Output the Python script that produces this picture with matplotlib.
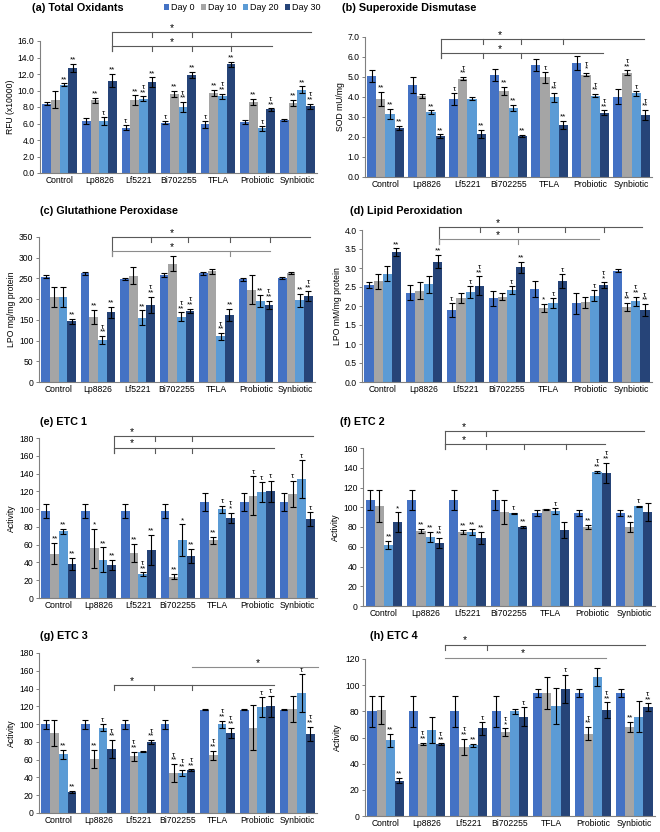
import matplotlib
matplotlib.use("Agg")
import matplotlib.pyplot as plt
from matplotlib.patches import Patch

plt.rcParams['font.family'] = ['Liberation Sans', 'DejaVu Sans']

W, H = 660, 832
groups = ["Control", "Lp8826", "Lf5221", "Bi702255", "TFLA", "Probiotic", "Synbiotic"]
days = ["Day 0", "Day 10", "Day 20", "Day 30"]
colors = ["#4472C4", "#A5A5A5", "#5B9BD5", "#264478"]

# ---- (a) Total Oxidants ----
a_mean = [[8.4, 8.9, 10.7, 12.7], [6.3, 8.8, 6.3, 11.2], [5.5, 8.8, 9.0, 11.0],
          [6.1, 9.6, 8.0, 11.9], [5.9, 9.7, 9.3, 13.2], [6.2, 8.6, 5.4, 7.7],
          [6.4, 8.5, 10.1, 8.1]]
a_err = [[0.2, 1.0, 0.15, 0.5], [0.4, 0.3, 0.5, 0.8], [0.3, 0.6, 0.3, 0.6],
         [0.2, 0.4, 0.6, 0.4], [0.4, 0.4, 0.3, 0.3], [0.2, 0.4, 0.3, 0.15],
         [0.1, 0.4, 0.4, 0.3]]
a_marks = [["", "", "**", "**"], ["", "**", "t", "**"], ["t", "**", "t**", "**"],
           ["t", "**", "t**", "**"], ["t", "**", "t**", "**"], ["", "**", "t", "t**"],
           ["", "**", "**", "t**"]]

# ---- (b) Superoxide Dismutase ----
b_mean = [[5.05, 3.9, 3.15, 2.45], [4.6, 4.05, 3.25, 2.05], [3.9, 4.92, 3.92, 2.15],
          [5.1, 4.3, 3.45, 2.05], [5.62, 4.98, 3.98, 2.6], [5.7, 5.12, 4.07, 3.22],
          [4.02, 5.22, 4.18, 3.1]]
b_err = [[0.3, 0.35, 0.25, 0.1], [0.4, 0.12, 0.08, 0.08], [0.28, 0.08, 0.06, 0.2],
         [0.3, 0.2, 0.15, 0.05], [0.3, 0.28, 0.22, 0.2], [0.35, 0.08, 0.08, 0.12],
         [0.38, 0.12, 0.12, 0.25]]
b_marks = [["", "**", "**", "**"], ["", "", "**", "**"], ["t", "t**", "", "**"],
           ["", "**", "**", "**"], ["", "t", "t**", "**"], ["", "t*", "t**", "t**"],
           ["", "t**", "t", "t**"]]

# ---- (c) Glutathione Peroxidase ----
c_mean = [[254, 205, 205, 147], [262, 157, 101, 168], [249, 257, 155, 186],
          [258, 286, 158, 172], [262, 267, 110, 162], [248, 223, 195, 186],
          [251, 263, 197, 207]]
c_err = [[4, 25, 25, 6], [4, 18, 10, 14], [3, 20, 18, 20], [4, 18, 10, 5],
         [3, 6, 8, 14], [3, 35, 15, 10], [2, 3, 16, 12]]
c_marks = [["", "", "", "**"], ["", "**", "t**", "**"], ["", "", "**", "t**"],
           ["", "", "t**", "t**"], ["", "", "t**", "**"], ["", "", "**", "t**"],
           ["", "", "**", "t**"]]

# ---- (d) Lipid Peroxidation ----
d_mean = [[2.55, 2.65, 2.85, 3.42], [2.35, 2.4, 2.57, 3.17], [1.9, 2.22, 2.37, 2.53],
          [2.2, 2.25, 2.42, 3.02], [2.45, 1.95, 2.08, 2.65], [2.07, 2.1, 2.27, 2.55],
          [2.93, 1.98, 2.12, 1.9]]
d_err = [[0.07, 0.2, 0.2, 0.1], [0.2, 0.22, 0.23, 0.18], [0.18, 0.13, 0.15, 0.25],
         [0.2, 0.08, 0.1, 0.15], [0.2, 0.1, 0.12, 0.18], [0.27, 0.15, 0.15, 0.07],
         [0.04, 0.1, 0.13, 0.15]]
d_marks = [["", "", "", "**"], ["", "", "", "**"], ["t", "", "t", "t**"],
           ["", "", "t", "**"], ["", "*", "t", "t"], ["", "", "t", "t*"],
           ["", "t**", "t**", "t**"]]

# ---- (e) ETC 1 ----
e_mean = [[98, 50, 75, 38], [98, 56, 43, 37], [98, 51, 27, 54], [98, 24, 65, 47],
          [108, 65, 100, 90], [108, 115, 119, 120], [108, 117, 134, 89]]
e_err = [[8, 12, 3, 7], [8, 22, 14, 6], [8, 10, 2, 17], [8, 3, 18, 8],
         [10, 4, 4, 6], [10, 22, 11, 12], [10, 15, 21, 8]]
e_marks = [["", "**", "**", "**"], ["", "*", "**", "**"], ["", "**", "t**", "**"],
           ["", "**", "*", "**"], ["", "**", "t", "t*"], ["", "t", "t", "t"],
           ["", "t", "t", "t"]]

# ---- (f) ETC 2 ----
f_mean = [[107, 101, 62, 85], [107, 76, 70, 64], [107, 75, 75, 69], [107, 95, 94, 80],
          [94, 98, 96, 77], [94, 80, 136, 135], [94, 80, 101, 95]]
f_err = [[10, 16, 4, 10], [10, 2, 5, 5], [10, 2, 3, 6], [10, 12, 0.5, 1],
         [3, 0.5, 3, 8], [3, 2, 1, 10], [3, 5, 0.5, 9]]
f_marks = [["", "", "**", "*"], ["", "**", "**", "t**"], ["", "**", "**", "**"],
           ["", "", "t", "**"], ["", "", "t", ""], ["", "**", "t**", "t**"],
           ["", "**", "t", ""]]

# ---- (g) ETC 3 ----
g_mean = [[100, 90, 66, 24], [100, 61, 96, 72], [100, 64, 69, 80], [100, 45, 45, 48],
          [116, 65, 100, 90], [116, 96, 119, 120], [116, 117, 135, 89]]
g_err = [[5, 15, 5, 1], [5, 10, 4, 10], [5, 5, 0.5, 2], [5, 10, 3, 1],
         [0.5, 5, 4, 6], [0.5, 25, 11, 12], [0.5, 15, 21, 8]]
g_marks = [["", "", "**", "**"], ["", "**", "t", "t**"], ["", "t**", "", "t**"],
           ["", "t**", "t**", "t**"], ["", "t**", "t**", "t**"], ["", "", "t", "t"],
           ["", "", "t", "t**"]]

# ---- (h) ETC 4 ----
h_mean = [[80, 81, 58, 27], [80, 55, 66, 55], [80, 53, 54, 67], [80, 64, 80, 76],
          [94, 94, 84, 97], [94, 63, 106, 81], [94, 68, 76, 83]]
h_err = [[12, 11, 5, 2], [12, 1, 10, 0.5], [12, 6, 1, 5], [12, 3, 2, 7],
         [3, 12, 14, 11], [3, 5, 7, 6], [3, 4, 12, 3]]
h_marks = [["", "", "**", "**"], ["", "t**", "", "t**"], ["", "t**", "**", "t"],
           ["", "t*", "", "t"], ["", "", "", "t"], ["", "t**", "", "t**"],
           ["", "**", "", "t**"]]

DARK = "#595959"
LIGHT = "#8C8C8C"


def rect(l, r, t, b):
    return [l / W, 1 - b / H, (r - l) / W, (b - t) / H]


def mark_text(code):
    if code.startswith("t"):
        rest = code[1:]
        return "τ\n" + rest if rest else "τ"
    return code


def bracket(ax, y, x0, x1, ticks, star, tick, bottom=None, color=DARK, left=True):
    ax.plot([x0, x1], [y, y], color=color, lw=0.8, clip_on=False)
    if left:
        yb = bottom if bottom is not None else y - tick
        ax.plot([x0, x0], [y, yb], color=color, lw=0.8, clip_on=False)
    for t in ticks:
        ax.plot([t, t], [y, y - tick], color=color, lw=0.8, clip_on=False)
    ax.annotate("*", (star, y), xytext=(0, -0.5), textcoords="offset points",
                ha="center", va="bottom", fontsize=7.5, annotation_clip=False)


def panel(box, title, tpos, ylabel, mean, err, marks, ymax, ystep, fmt):
    ax = fig.add_axes(rect(*box))
    w = 0.22
    for d in range(4):
        xs = [i + (d - 1.5) * w for i in range(len(groups))]
        m = [row[d] for row in mean]
        e = [row[d] for row in err]
        ax.bar(xs, m, width=w, color=colors[d], yerr=e, capsize=2.2,
               error_kw=dict(elinewidth=0.8, capthick=0.8, ecolor="black"))
        for x, mv, ev, row in zip(xs, m, e, marks):
            s = mark_text(row[d])
            if s:
                ax.annotate(s, (x, mv + ev), xytext=(0, 0.2), textcoords="offset points",
                            ha="center", va="bottom", fontsize=5.8, linespacing=0.62,
                            annotation_clip=False)
    ax.set_xlim(-0.5, len(groups) - 0.5)
    ax.set_ylim(0, ymax)
    n = int(round(ymax / ystep))
    ticks = [k * ystep for k in range(n + 1)]
    ax.set_yticks(ticks)
    ax.set_yticklabels([fmt.format(t) for t in ticks], fontsize=6.2)
    ax.set_xticks(range(len(groups)))
    ax.set_xticklabels(groups, fontsize=6.2)
    ax.tick_params(axis="x", length=0, pad=2)
    ax.tick_params(axis="y", length=2.5, width=0.7, pad=1.5, color="#808080")
    for s in ["top", "right"]:
        ax.spines[s].set_visible(False)
    for s in ["left", "bottom"]:
        ax.spines[s].set_color("#808080")
        ax.spines[s].set_linewidth(0.8)
    ax.set_ylabel(ylabel, fontsize=6.2, labelpad=2)
    fig.text(tpos[0] / W, 1 - tpos[1] / H, title, fontsize=7.8, fontweight="bold",
             ha="left", va="center")
    return ax


fig = plt.figure(figsize=(6.6, 8.32), dpi=100)

ax = panel((40, 317, 41, 173), "(a) Total Oxidants", (32, 8), "RFU (x10000)",
           a_mean, a_err, a_marks, 16, 2, "{:.1f}")
bracket(ax, 17.1, 1.33, 6.36, [2.33, 3.33, 4.33], 2.84, 0.6, bottom=14.8)
bracket(ax, 15.4, 1.33, 5.36, [2.33, 3.33, 4.33], 2.84, 0.6)

ax = panel((365, 652, 37, 177), "(b) Superoxide Dismutase", (342, 8), "SOD mU/mg",
           b_mean, b_err, b_marks, 7, 1, "{:.1f}")
bracket(ax, 6.9, 1.36, 6.3, [2.37, 3.3, 4.32], 2.8, 0.25, bottom=5.95)
bracket(ax, 6.2, 1.36, 5.3, [2.37, 3.3], 2.8, 0.25)

ax = panel((39, 315, 237, 382), "(c) Glutathione Peroxidase", (40, 211), "LPO mg/mg protein",
           c_mean, c_err, c_marks, 350, 50, "{:.0f}")
bracket(ax, 350, 1.36, 6.37, [2.34, 3.29, 4.34, 5.37], 2.86, 12, bottom=304)
bracket(ax, 316, 1.36, 5.37, [4.34], 2.86, 12, color=LIGHT)

ax = panel((362, 652, 230, 382), "(d) Lipid Peroxidation", (350, 211), "LPO mM/mg protein",
           d_mean, d_err, d_marks, 4, 0.5, "{:.1f}")
bracket(ax, 4.08, 1.36, 6.25, [2.36, 3.27, 4.4, 5.35], 2.79, 0.13, bottom=3.63)
bracket(ax, 3.76, 1.36, 5.23, [3.27], 2.79, 0.13, color=LIGHT)

ax = panel((39, 317, 438, 598), "(e) ETC 1", (40, 422), "Activity",
           e_mean, e_err, e_marks, 180, 20, "{:.0f}")
bracket(ax, 182, 1.39, 6.39, [2.42, 3.36], 1.85, 5.6, bottom=163)
bracket(ax, 169, 1.39, 5.42, [2.42, 3.36], 1.85, 5.6)

ax = panel((363, 655, 448, 606), "(f) ETC 2", (340, 422), "Activity",
           f_mean, f_err, f_marks, 160, 20, "{:.0f}")
bracket(ax, 177, 1.47, 6.24, [2.46], 1.92, 5, bottom=159)
bracket(ax, 164, 1.47, 5.31, [2.46, 3.36, 4.37], 1.92, 5)

ax = panel((39, 317, 653, 813), "(g) ETC 3", (40, 636), "Activity",
           g_mean, g_err, g_marks, 180, 20, "{:.0f}")
bracket(ax, 144, 1.39, 5.42, [2.39, 3.36], 1.85, 5.6)
bracket(ax, 164, 3.36, 6.52, [], 5.0, 5.6, color=LIGHT, left=False)

ax = panel((365, 655, 659, 816), "(h) ETC 4", (370, 636), "Activity",
           h_mean, h_err, h_marks, 120, 20, "{:.0f}")
bracket(ax, 131, 1.44, 6.25, [2.44], 1.9, 4)
bracket(ax, 121, 1.44, 5.31, [], 3.3, 4, color=LIGHT, left=False)

handles = [Patch(facecolor=c, edgecolor="none") for c in colors]
fig.legend(handles, days, loc="center", bbox_to_anchor=(242 / W, 1 - 8 / H), ncol=4,
           frameon=False, fontsize=6.5, handlelength=0.6, handleheight=0.6,
           handletextpad=0.2, columnspacing=0.7, borderpad=0)

fig.savefig("out.png", dpi=100)
